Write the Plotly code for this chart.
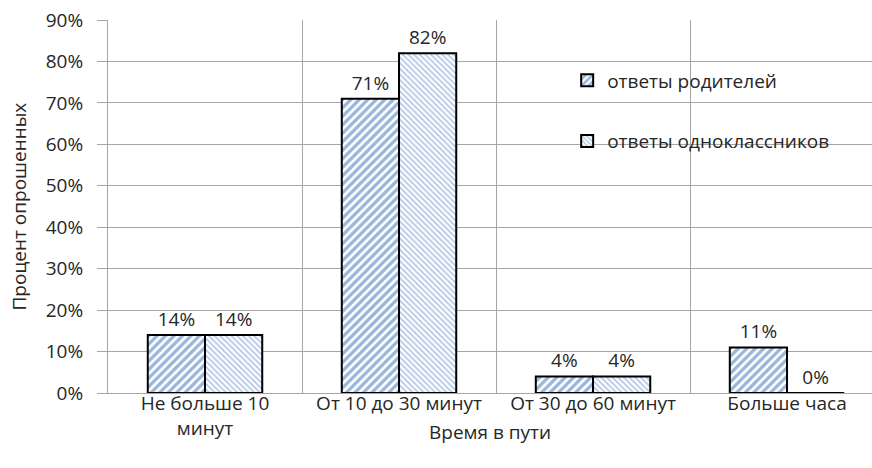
import plotly.graph_objects as go

categories = ["Не больше 10<br>минут", "От 10 до 30 минут", "От 30 до 60 минут", "Больше часа"]
parents = [0.14, 0.71, 0.04, 0.11]
classmates = [0.14, 0.82, 0.04, 0.00]
labels_parents = ["14%", "71%", "4%", "11%"]
labels_classmates = ["14%", "82%", "4%", "0%"]
series_names = ["ответы родителей", "ответы одноклассников"]
x_title = "Время в пути"
y_title = "Процент опрошенных"

font = "Open Sans, sans-serif"
fs = 19
txt = "#262626"
grid = "#A6A6A6"

fig = go.Figure()
fig.add_trace(go.Bar(
    x=categories, y=parents, name=series_names[0], text=labels_parents,
    textposition="outside", cliponaxis=False, legendgroup="a",
    textfont=dict(size=fs, color=txt, family=font),
    marker=dict(color="white", line=dict(color="black", width=2),
                pattern=dict(shape="/", fgcolor="#336BB3", bgcolor="white", size=6, solidity=0.55)),
))
fig.add_trace(go.Bar(
    x=categories, y=classmates, name=series_names[1], text=labels_classmates,
    textposition="outside", cliponaxis=False, legendgroup="b",
    textfont=dict(size=fs, color=txt, family=font),
    marker=dict(color="white", line=dict(color="black", width=2),
                pattern=dict(shape="\\", fgcolor="#6690CC", bgcolor="white", size=4, solidity=0.45)),
))

fig.update_layout(
    width=872, height=468,
    margin=dict(l=108, r=0, t=20, b=75),
    paper_bgcolor="white", plot_bgcolor="white",
    barmode="group", bargap=0.41, bargroupgap=0,
    font=dict(family=font, size=fs, color=txt),
    showlegend=True,
    legend=dict(x=0.601, y=0.756, xanchor="left", yanchor="middle",
                bgcolor="rgba(0,0,0,0)", traceorder="grouped", tracegroupgap=33,
                font=dict(size=fs, family=font, color=txt), itemwidth=30),
    xaxis=dict(
        type="category", range=[-0.5, 3.438], tickson="boundaries",
        showgrid=True, gridcolor=grid, gridwidth=1,
        ticks="inside", ticklen=5, tickcolor=grid,
        showline=True, linecolor=grid, linewidth=1,
        tickfont=dict(size=fs, family=font, color=txt),
        ticklabelstandoff=-7,
        automargin=False, ticklabeloverflow="allow",
    ),
    yaxis=dict(
        range=[0, 0.9], dtick=0.1, tickformat=".0%",
        showgrid=True, gridcolor=grid, gridwidth=1,
        ticks="outside", ticklen=10, tickcolor=grid,
        showline=True, linecolor=grid, linewidth=1,
        zeroline=False,
        tickfont=dict(size=fs, family=font, color=txt),
        ticklabelstandoff=10,
        automargin=False, ticklabeloverflow="allow",
    ),
    annotations=[
        dict(text=x_title, xref="paper", yref="paper", x=0.5, y=-0.1046,
             xanchor="center", yanchor="middle", showarrow=False,
             font=dict(size=fs, family=font, color=txt)),
        dict(text=y_title, xref="paper", yref="paper", x=-0.1178, y=0.5, textangle=-90,
             xanchor="center", yanchor="middle", showarrow=False,
             font=dict(size=fs, family=font, color=txt)),
    ],
)

fig.write_html("out.html", config={"displayModeBar": False},
               post_script="document.body.style.margin='0';document.body.style.overflow='hidden';")
